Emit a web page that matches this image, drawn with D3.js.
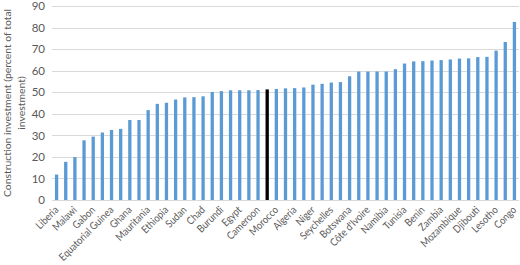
<!DOCTYPE html>
<html>
<head>
<meta charset="utf-8">
<script src="https://cdn.jsdelivr.net/npm/d3@7"></script>
<style>
  body { margin: 0; background: #fff; }
  #graphicContainer { width: 520px; height: 265px; }
  text { font-family: Lato, "Open Sans", sans-serif; fill: #595959; }
</style>
</head>
<body>
<div id="graphicContainer"></div>
<script>
// Excel shows only every other category name; the skipped ones are left blank
var categories = ["Liberia", "", "Malawi", "", "Gabon", "", "Equatorial Guinea", "", "Ghana", "",
  "Mauritania", "", "Ethiopia", "", "Sudan", "", "Chad", "", "Burundi", "", "Egypt", "", "Cameroon", "",
  "Morocco", "", "Algeria", "", "Niger", "", "Seychelles", "", "Botswana", "", "Côte d'Ivoire", "",
  "Namibia", "", "Tunisia", "", "Benin", "", "Zambia", "", "Mozambique", "", "Djibouti", "", "Lesotho", "", "Congo"]

var values = [11.8, 17.7, 19.9, 27.7, 29.4, 31.3, 32.5, 33.0, 37.1, 37.1,
  41.7, 44.6, 45.1, 46.6, 47.6, 47.7, 48.1, 50.1, 50.5, 50.9, 50.9, 50.9, 51.0, 51.3,
  51.5, 51.8, 51.9, 52.2, 53.5, 53.9, 54.5, 54.7, 57.4, 59.6, 59.6, 59.6,
  59.6, 60.7, 63.3, 64.3, 64.4, 64.7, 64.9, 65.2, 65.6, 65.7, 66.3, 66.4, 69.3, 73.3, 82.6]

var highlighted = [23]
var yTicks = [0, 10, 20, 30, 40, 50, 60, 70, 80, 90]
var yTitle = ["Construction investment (percent of total", "investment)"]

var margin = { top: 6, right: 1, bottom: 65, left: 52 }
var width = 520 - margin.left - margin.right
var height = 265 - margin.top - margin.bottom

var svg = d3.select("#graphicContainer").append("svg")
  .attr("width", 520)
  .attr("height", 265)

var features = svg.append("g").attr("transform", "translate(" + margin.left + "," + margin.top + ")")

var idx = d3.range(values.length)
var x = d3.scaleBand().domain(idx).range([0, width]).paddingInner(0.64).paddingOuter(0.32)
var y = d3.scaleLinear().domain([0, 90]).range([height, 0])

// gridlines
features.selectAll(".grid")
  .data(yTicks)
  .enter().append("line")
  .attr("x1", 0)
  .attr("x2", width)
  .attr("y1", function (d) { return Math.round(y(d)) + 0.5 })
  .attr("y2", function (d) { return Math.round(y(d)) + 0.5 })
  .attr("stroke", "#d9d9d9")
  .attr("stroke-width", 1)

var yAxis = d3.axisLeft(y).tickValues(yTicks).tickSize(0).tickPadding(7)
var gy = features.append("g").call(yAxis)
gy.select(".domain").remove()
gy.selectAll("text").style("font-size", "11.5px").attr("fill", "#595959")

features.selectAll(".bar")
  .data(values)
  .enter().append("rect")
  .attr("x", function (d, i) { return x(i) })
  .attr("width", x.bandwidth())
  .attr("y", function (d) { return y(d) })
  .attr("height", function (d) { return y(0) - y(d) })
  .attr("fill", function (d, i) { return highlighted.indexOf(i) > -1 ? "#000" : "#5b9bd5" })

// x labels, rotated like Excel
var xLabels = features.selectAll(".xlabel")
  .data(idx.filter(function (i) { return categories[i] != "" }))
  .enter().append("text")
  .attr("text-anchor", "end")
  .attr("dy", "0.35em")
  .style("font-size", "10.5px")
  .text(function (i) { return categories[i] })

// squeeze the labels a little so they are as narrow as Calibri
var longest = d3.max(xLabels.nodes(), function (n) { return n.getComputedTextLength() })
var k = Math.min(1, 72 / longest)

xLabels.attr("transform", function (i) {
  return "translate(" + (x(i) + x.bandwidth() / 2) + "," + (height + 8) + ") rotate(-45) scale(" + k + ",1)"
})

svg.append("text")
  .attr("transform", "translate(11," + (margin.top + height / 2) + ") rotate(-90)")
  .attr("text-anchor", "middle")
  .style("font-size", "10.4px")
  .selectAll("tspan")
  .data(yTitle)
  .enter().append("tspan")
  .attr("x", 0)
  .attr("dy", function (d, i) { return i == 0 ? 0 : "1.3em" })
  .text(function (d) { return d })
</script>
</body>
</html>
